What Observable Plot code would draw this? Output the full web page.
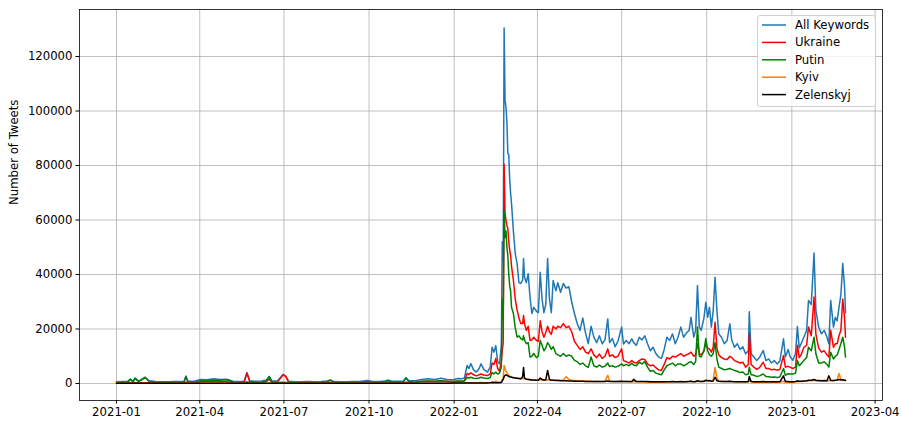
<!DOCTYPE html>
<html>
<head>
<meta charset="utf-8">
<script src="https://cdn.jsdelivr.net/npm/d3@7"></script>
<script src="https://cdn.jsdelivr.net/npm/@observablehq/plot@0.6"></script>
<style>
  html, body { margin: 0; padding: 0; background: white; }
  #wrap { position: relative; width: 901px; height: 423px; }
  #legend { position: absolute; left: 0; top: 0; pointer-events: none; }
</style>
</head>
<body>
<div id="wrap"></div>
<script>
// ---- data ----
const dates = [
  // 2021 Q1
  "2021-01-01","2021-01-08","2021-01-13","2021-01-16","2021-01-19","2021-01-21","2021-01-25","2021-02-01","2021-02-05","2021-02-12","2021-02-19","2021-02-26","2021-03-05","2021-03-12","2021-03-15","2021-03-17","2021-03-19","2021-03-26",
  // 2021 Q2
  "2021-04-02","2021-04-09","2021-04-16","2021-04-23","2021-04-30","2021-05-07","2021-05-14","2021-05-19","2021-05-22","2021-05-25","2021-05-31","2021-06-07","2021-06-12","2021-06-15","2021-06-18","2021-06-24","2021-06-30",
  // 2021 Q3
  "2021-07-03","2021-07-06","2021-07-13","2021-07-20","2021-07-27","2021-08-03","2021-08-10","2021-08-17","2021-08-20","2021-08-24","2021-08-31","2021-09-07","2021-09-14","2021-09-21","2021-09-29",
  // 2021 Q4
  "2021-10-05","2021-10-12","2021-10-19","2021-10-21","2021-10-26","2021-11-02","2021-11-07","2021-11-10","2021-11-13","2021-11-20","2021-11-27","2021-12-04","2021-12-11","2021-12-18","2021-12-25",
  // 2022 Jan - Feb 21
  "2022-01-01","2022-01-05","2022-01-09","2022-01-12","2022-01-15","2022-01-17","2022-01-19","2022-01-22","2022-01-25","2022-01-28","2022-01-30","2022-02-02","2022-02-06","2022-02-09","2022-02-11","2022-02-13","2022-02-15","2022-02-17","2022-02-19","2022-02-21",
  // invasion peak
  "2022-02-22","2022-02-23","2022-02-24","2022-02-25","2022-02-26","2022-02-27","2022-02-28","2022-03-01","2022-03-02","2022-03-03","2022-03-04","2022-03-06","2022-03-08","2022-03-10","2022-03-12","2022-03-14",
  // Mar 16 - May 26
  "2022-03-16","2022-03-17","2022-03-18","2022-03-20","2022-03-22","2022-03-24","2022-03-26","2022-03-28","2022-03-31","2022-04-02","2022-04-04","2022-04-06","2022-04-08","2022-04-10","2022-04-12","2022-04-14","2022-04-16","2022-04-18","2022-04-21","2022-04-23","2022-04-26","2022-04-29","2022-05-02","2022-05-05","2022-05-08","2022-05-11","2022-05-14","2022-05-17","2022-05-20","2022-05-23","2022-05-26",
  // May 29 - Jul 29
  "2022-05-29","2022-06-01","2022-06-04","2022-06-07","2022-06-10","2022-06-13","2022-06-16","2022-06-18","2022-06-21","2022-06-24","2022-06-27","2022-07-01","2022-07-03","2022-07-06","2022-07-09","2022-07-12","2022-07-14","2022-07-17","2022-07-20","2022-07-23","2022-07-26","2022-07-29",
  // Aug 1 - Oct 28
  "2022-08-01","2022-08-04","2022-08-07","2022-08-10","2022-08-13","2022-08-16","2022-08-19","2022-08-22","2022-08-25","2022-08-28","2022-08-31","2022-09-03","2022-09-06","2022-09-09","2022-09-12","2022-09-14","2022-09-17","2022-09-19","2022-09-21","2022-09-23","2022-09-25","2022-09-28","2022-09-30","2022-10-02","2022-10-04","2022-10-06","2022-10-08","2022-10-10","2022-10-12","2022-10-14","2022-10-17","2022-10-20","2022-10-23","2022-10-26","2022-10-28",
  // Oct 31 - Dec 30
  "2022-10-31","2022-11-03","2022-11-06","2022-11-09","2022-11-12","2022-11-15","2022-11-16","2022-11-18","2022-11-21","2022-11-24","2022-11-27","2022-12-01","2022-12-04","2022-12-07","2022-12-10","2022-12-13","2022-12-16","2022-12-19","2022-12-23","2022-12-25","2022-12-28","2022-12-30",
  // 2023
  "2023-01-02","2023-01-05","2023-01-07","2023-01-09","2023-01-11","2023-01-14","2023-01-17","2023-01-19","2023-01-22","2023-01-25","2023-01-27","2023-01-30","2023-02-02","2023-02-05","2023-02-08","2023-02-10","2023-02-12","2023-02-15","2023-02-17","2023-02-19","2023-02-21","2023-02-23","2023-02-25","2023-02-27","2023-02-28"
];

const allKeywords = [
  600,700,800,1600,800,2000,900,2300,1000,700,600,600,700,700,800,2700,900,800,
  1500,1400,1700,1500,1600,800,700,800,4000,1000,800,900,1300,2600,1000,900,3300,
  2700,800,600,600,700,600,700,900,1300,700,600,600,700,700,1100,
  700,700,900,1300,800,800,900,2100,1000,1000,1500,1700,1500,1900,1400,
  1500,1800,1700,2000,6600,5500,7300,5000,4200,5500,7200,5200,4200,6000,13300,11500,13900,8000,7300,14000,
  52000,45000,130500,103900,101400,96000,84400,84000,75000,69700,66000,56000,47700,44000,37000,36700,
  38000,45900,39000,37000,40300,31600,25700,28000,26500,26000,40800,31000,26000,29000,45900,31000,26000,37800,34000,37000,33500,36700,35000,35500,30000,25700,22000,19500,24000,18500,14700,
  21000,17000,15000,17500,14600,16000,23700,15000,16500,13500,15500,20700,14500,15800,14600,16400,15000,14000,17000,16000,17500,14600,
  12000,13300,11000,9700,9200,12500,17000,15800,18200,14600,17000,20700,17000,18500,19500,24300,17000,19500,36000,20700,19500,24000,29800,24300,28000,20700,26800,39000,26800,18200,17000,14600,15800,21900,16000,
  13300,14600,12500,13500,10900,12000,26300,10900,9700,8400,9500,12100,8400,9000,7500,8400,7200,8200,16400,9700,12500,10000,
  8500,11000,20900,13000,14600,17000,19500,30500,29000,47900,26800,20700,18200,19500,17000,14600,30500,20700,24300,23000,28000,32400,44000,35400,26000
];

const ukraine = [
  200,250,250,300,250,300,300,300,300,250,250,250,300,300,300,500,300,300,
  600,600,700,600,600,350,300,500,3800,700,400,500,800,1500,600,500,3200,
  2600,500,300,300,400,300,300,300,400,300,300,300,300,300,400,
  300,300,300,400,300,350,400,500,400,500,700,800,700,900,700,
  700,800,800,1000,3700,3300,3900,3200,2800,3200,3500,3100,2900,3500,7500,7000,9200,5500,4500,8000,
  12000,15000,80500,62400,60000,58000,57000,52000,49000,47000,43000,38000,31000,27000,24000,22000,
  22000,25000,22000,19500,21000,15800,16000,17000,15800,15500,23000,19000,17000,18700,21000,19000,18000,21000,20000,21000,20500,22000,20500,21000,19000,15500,14000,12500,13500,11500,11000,
  12700,10500,9500,10800,9200,10000,12700,10000,10500,9500,10000,12700,8400,8000,7500,8400,7800,7500,8400,9000,8800,7200,
  6500,6800,5800,5000,4800,7000,9500,9000,10000,9700,10300,11000,10000,10500,11000,11500,10000,10500,14700,11000,10500,12000,14600,13000,12700,11500,13300,22500,13000,10500,9500,9000,8800,10000,9500,
  8400,8000,7500,7800,6000,7000,18200,7000,6000,5200,5800,7800,5500,5500,5000,5200,4900,5100,10300,6000,6300,6000,
  5500,6000,14000,9500,10500,13300,14000,20700,17500,31700,18000,13000,11500,12000,10500,9700,19500,13300,14600,14600,17500,19500,31000,24000,17000
];

const putin = [
  300,400,500,1500,600,1900,700,2200,800,450,350,350,350,400,500,2600,600,400,
  1000,1100,1300,1200,1400,450,400,400,600,400,400,400,700,2500,500,400,500,
  400,300,300,300,300,300,350,600,1200,400,300,300,350,350,700,
  350,400,600,1000,500,450,600,2000,700,500,800,900,800,1000,700,
  700,900,800,900,2200,2000,2300,1900,1800,2000,2300,2000,1800,2200,4000,3500,4200,3500,3800,6000,
  31000,24000,63500,53600,56000,50000,47000,40000,36000,34000,28000,25700,20500,17000,17500,16500,
  16000,17500,16000,14600,15000,9700,10000,11000,9500,10000,15800,14000,12000,13000,15000,14000,12500,13500,11000,10500,10000,11000,10000,10500,10000,8500,8000,7000,7500,6500,5900,
  9700,6500,6000,6800,6000,6300,7500,6200,6500,6000,6300,7200,6500,7000,6500,7400,6800,6500,7800,7200,8000,6000,
  4500,4800,3800,3500,3200,5000,6500,7000,7500,6500,7200,7200,6500,7000,7800,8000,7000,8000,20700,10000,9700,12000,16500,12000,10500,10000,11000,15000,9000,6000,5500,5000,5200,5500,5200,
  4800,4500,4000,4200,3200,3500,6000,3200,3000,2600,2800,3500,2600,2500,2300,2400,2200,2400,5500,3000,3600,3500,
  3500,3800,8400,6500,7200,8400,9500,13300,12000,17000,10900,7500,7500,8000,7000,6000,11500,9000,10000,10500,12500,14600,17000,13300,9700
];

const kyiv = [
  50,60,60,60,60,60,60,60,60,50,50,50,50,60,60,60,60,60,
  80,80,80,80,80,60,60,60,200,60,60,60,60,80,60,60,100,
  100,60,50,50,50,50,50,50,60,50,50,50,50,50,50,
  50,50,50,60,50,50,60,60,60,60,70,80,80,80,80,
  100,100,100,150,300,300,300,300,300,300,400,300,300,400,700,600,800,600,500,600,
  1500,2000,6600,5500,4500,4000,3500,3000,2800,2500,2300,2200,2000,1900,1800,1700,
  1800,1800,1700,1600,1600,1500,1300,1300,1200,1200,1500,1300,1200,1300,1400,1300,1200,1300,1200,1300,1200,1300,2500,1500,1200,1100,1000,900,900,800,800,
  800,700,700,700,700,800,3000,900,700,700,700,800,700,700,600,600,600,600,600,600,600,500,
  500,500,500,500,500,500,600,600,700,600,600,600,600,700,800,800,600,600,800,700,700,700,900,1000,1200,800,1500,5900,2000,900,800,700,700,700,700,
  600,600,600,600,500,600,1000,600,500,500,500,500,500,500,500,500,500,500,800,500,500,500,
  500,600,800,700,700,800,900,1000,1000,1200,1000,900,900,900,900,1000,1000,1000,1100,1200,3700,1500,1500,1300,1200
];

const zelenskyj = [
  100,100,100,100,100,100,100,100,100,100,100,100,100,100,100,100,100,100,
  100,100,100,100,100,100,100,100,150,100,100,100,100,100,100,100,100,
  100,100,100,100,100,100,100,100,100,100,100,100,100,100,100,
  100,100,100,100,100,100,100,100,100,100,100,100,100,100,100,
  150,150,150,150,200,200,200,200,200,200,200,200,200,250,300,300,300,300,300,400,
  1000,1500,2500,3000,3200,3000,2800,2600,2500,2400,2300,2100,2000,1900,1800,1700,
  2500,5900,2000,1600,1500,1400,1300,1300,1200,1200,2000,1500,1300,1300,4800,1500,1200,1200,1100,1100,1000,1000,1000,900,900,800,800,800,800,700,700,
  700,700,700,700,700,700,900,700,700,700,700,800,700,700,700,700,1500,700,700,700,700,700,
  600,600,600,600,600,600,600,600,700,600,600,700,600,600,700,800,600,700,1000,800,700,800,1200,1000,1000,800,900,2300,1000,800,700,700,700,800,700,
  600,600,600,600,600,700,2600,700,600,600,600,700,600,600,600,600,600,600,2800,700,700,600,
  600,700,900,800,800,900,1000,1200,1200,1500,1200,1100,1000,1100,1000,2800,1200,1100,1200,1300,1500,1300,1400,1200,1100
];

const seriesNames = ["All Keywords", "Ukraine", "Putin", "Kyiv", "Zelenskyj"];
const seriesValues = [allKeywords, ukraine, putin, kyiv, zelenskyj];
const seriesColors = ["#1f77b4", "#ff0000", "#008000", "#ff7f0e", "#000000"];

const xTickLabels = ["2021-01","2021-04","2021-07","2021-10","2022-01","2022-04","2022-07","2022-10","2023-01","2023-04"];
const yTicks = [0, 20000, 40000, 60000, 80000, 100000, 120000];
const yLabel = "Number of Tweets";

// ---- build ----
const parse = d3.utcParse("%Y-%m-%d");
const xTicks = xTickLabels.map(d3.utcParse("%Y-%m"));
const rows = seriesNames.flatMap((name, k) =>
  dates.map((d, i) => ({date: parse(d), value: seriesValues[k][i], series: name}))
);

const gridStyle = {stroke: "#b0b0b0", strokeOpacity: 1, strokeWidth: 0.8};

const chart = Plot.plot({
  width: 901,
  height: 423,
  marginLeft: 79,
  marginRight: 19,
  marginTop: 9,
  marginBottom: 23,
  style: {fontFamily: "DejaVu Sans, sans-serif", fontSize: "11.7px", background: "white", color: "black"},
  x: {type: "utc", domain: [parse("2020-11-22"), parse("2023-04-09")]},
  y: {domain: [-6240, 137250]},
  marks: [
    Plot.gridX(xTicks, gridStyle),
    Plot.gridY(yTicks, gridStyle),
    ...seriesNames.map((name, k) =>
      Plot.line(rows.filter(r => r.series === name), {
        x: "date", y: "value", stroke: seriesColors[k], strokeWidth: 1.5, strokeLinejoin: "round"
      })
    ),
    Plot.frame({stroke: "black", strokeWidth: 0.8}),
    Plot.axisX(xTicks, {tickFormat: d3.utcFormat("%Y-%m"), tickSize: 3.5, tickPadding: 3.5, label: null, fontSize: 11.7}),
    Plot.axisY(yTicks, {tickFormat: d3.format("d"), tickSize: 3.5, tickPadding: 3.5, label: null, fontSize: 11.7}),
    Plot.text([yLabel], {frameAnchor: "left", dx: -65, rotate: -90, fontSize: 11.7, fill: "black"})
  ]
});

const wrap = document.getElementById("wrap");
wrap.appendChild(chart);

// ---- legend (top-right, inside the frame) ----
const leg = d3.select(wrap).append("svg")
  .attr("id", "legend").attr("width", 901).attr("height", 423);
leg.append("rect")
  .attr("x", 757.5).attr("y", 15.5).attr("width", 118).attr("height", 91).attr("rx", 2.5)
  .attr("fill", "rgba(255,255,255,0.8)").attr("stroke", "#d0d0d0").attr("stroke-width", 1);
const rowY = [25, 42.4, 59.8, 77.2, 94.6];
seriesNames.forEach((name, k) => {
  leg.append("line")
    .attr("x1", 762).attr("x2", 786).attr("y1", rowY[k]).attr("y2", rowY[k])
    .attr("stroke", seriesColors[k]).attr("stroke-width", 1.5);
  leg.append("text")
    .attr("x", 795).attr("y", rowY[k]).attr("dy", "0.35em")
    .attr("font-family", "DejaVu Sans, sans-serif").attr("font-size", 11.7)
    .attr("fill", "black").text(name);
});
</script>
</body>
</html>
